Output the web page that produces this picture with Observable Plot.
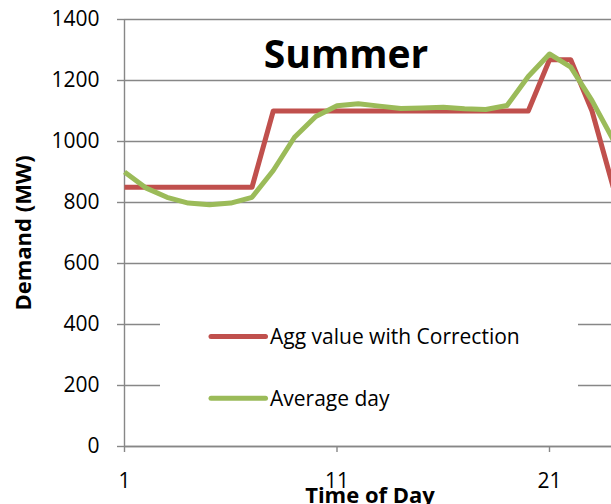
<!DOCTYPE html>
<html><head><meta charset="utf-8">
<script src="https://cdn.jsdelivr.net/npm/d3@7"></script>
<script src="https://cdn.jsdelivr.net/npm/@observablehq/plot@0.6"></script>
<style>
body{margin:0;background:#fff}
#chart{position:relative;width:611px;height:504px;overflow:hidden}
</style>
</head><body><div id="chart"></div>
<script>
const hours = [1,2,3,4,5,6,7,8,9,10,11,12,13,14,15,16,17,18,19,20,21,22,23,24];
const aggCorrection = [850,850,850,850,850,850,850,1100,1100,1100,1100,1100,1100,1100,1100,1100,1100,1100,1100,1100,1268,1268,1100,850];
const averageDay = [900,848,817,798,793,798,817,905,1014,1082,1117,1124,1116,1108,1110,1112,1107,1105,1118,1213,1287,1244,1134,1005];
const seriesNames = ["Agg value with Correction","Average day"];
const seriesColors = ["#c0504d","#9bbb59"];
const yTicks = [0,200,400,600,800,1000,1200,1400];
const xTicks = [1,11,21];
const titleText = "Summer";
const xLabel = "Time of Day";
const yLabel = "Demand (MW)";

const data = [];
hours.forEach((h,i)=>{
  data.push({h, v: aggCorrection[i], s: seriesNames[0]});
});
hours.forEach((h,i)=>{
  data.push({h, v: averageDay[i], s: seriesNames[1]});
});

const gray = "#878787";
const font = "'Open Sans', sans-serif";

const plot = Plot.plot({
  width: 611, height: 504,
  marginLeft: 124, marginTop: 19, marginBottom: 58, marginRight: 0,
  x: {domain: [1,24], range: [124, 612.75]},
  y: {domain: [0,1400], range: [446, 19]},
  color: {domain: seriesNames, range: seriesColors},
  style: {fontFamily: font, fontSize: "21px", color: "#000", background: "#fff", overflow: "hidden"},
  marks: [
    Plot.gridY(yTicks, {stroke: gray, strokeOpacity: 1, strokeWidth: 1.4}),
    Plot.axisY(yTicks, {tickSize: 7, tickPadding: 18, stroke: gray, strokeWidth: 1.4, tickFormat: d => String(d), label: null, fontSize: 21, fill: "#000"}),
    Plot.ruleX([1], {y1: 0, y2: 1400, stroke: gray, strokeWidth: 1.4}),
    Plot.axisX(xTicks, {tickSize: 6, tickPadding: 21, stroke: gray, strokeWidth: 1.4, tickFormat: d => String(d), label: null, fontSize: 21, fill: "#000"}),
    Plot.ruleY([0], {stroke: gray, strokeWidth: 1.4}),
    Plot.line(data, {x: "h", y: "v", z: "s", stroke: "s", strokeWidth: 5, strokeLinejoin: "round", strokeLinecap: "butt"}),
    Plot.text([titleText], {frameAnchor: "top", dx: -22, dy: 48, lineAnchor: "bottom", fontSize: 39, fontWeight: "bold", fill: "#000"}),
    Plot.text([xLabel], {frameAnchor: "bottom", dx: 2, dy: 41, lineAnchor: "top", fontSize: 22, fontWeight: "bold", fill: "#000"}),
    Plot.text([yLabel], {frameAnchor: "left", dx: -101, rotate: -90, textAnchor: "middle", lineAnchor: "middle", fontSize: 22, fontWeight: "bold", fill: "#000"})
  ]
});

document.getElementById("chart").appendChild(plot);

// Legend
const svg = d3.select(plot);
const lg = svg.append("g").attr("class","legend").attr("text-anchor","start");
lg.append("rect").attr("x",160).attr("y",292).attr("width",418).attr("height",132).attr("fill","#fff");
const rows = [336.5, 398.3];
seriesNames.forEach((name,i)=>{
  lg.append("line").attr("x1",211).attr("x2",265.5).attr("y1",rows[i]).attr("y2",rows[i])
    .attr("stroke",seriesColors[i]).attr("stroke-width",5).attr("stroke-linecap","round");
  lg.append("text").attr("x",270).attr("y",rows[i]+7.5).attr("text-anchor","start").attr("font-family",font).attr("font-size",21)
    .attr("fill","#000").text(name);
});
</script>
</body></html>
